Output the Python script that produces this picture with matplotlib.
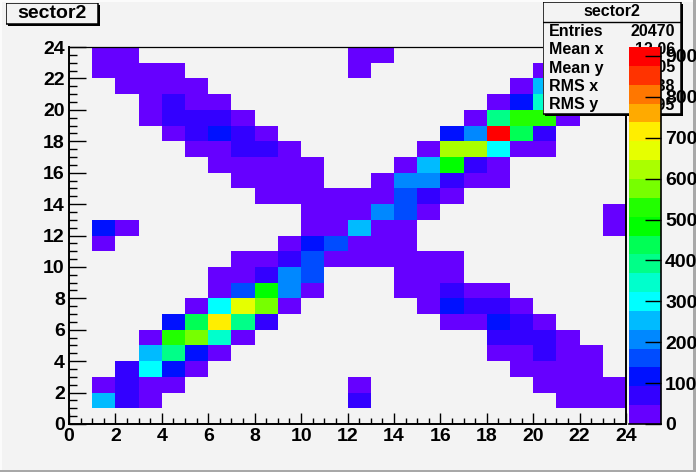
import numpy as np
import matplotlib
matplotlib.use('Agg')
import matplotlib.pyplot as plt
from matplotlib.colors import ListedColormap, BoundaryNorm
from matplotlib.patches import Rectangle

plt.rcParams['font.family'] = ['Liberation Sans', 'DejaVu Sans']
plt.rcParams['font.weight'] = 'bold'

W, H = 696, 472
GRIS = '#f3f3f3'

titulo = 'sector2'
nombres_stats = ['Entries', 'Mean x', 'Mean y', 'RMS x', 'RMS y']
valores_stats = ['20470', '12.06', '12.05', '6.38', '6.95']

ticks_ejes = list(range(0, 25, 2))
ticks_z = [0, 100, 200, 300, 400, 500, 600, 700, 800, 900]

bordes_x = list(range(25))
bordes_y = list(range(25))

# 20 niveles de la paleta, de abajo hacia arriba
z_max = 922
colores = ['#6600ff', '#3300ff', '#0011ff', '#004cff', '#0088ff', '#00bbff', '#00ffff',
           '#00ffcc', '#00ff88', '#00ff55', '#00ff00', '#22ff00', '#77ff00', '#aaff00',
           '#e6ff00', '#ffee00', '#ffaa00', '#ff7700', '#ff3300', '#ff0000']

# conteos, fila 0 = abajo
conteos = [
    [0]*24,
    [0,253,69,23,0,0,0,0,0,0,0,0,69,0,0,0,0,0,0,0,0,23,23,23],
    [0,23,69,23,23,0,0,0,0,0,0,0,23,0,0,0,0,0,0,0,23,23,23,23],
    [0,0,69,300,115,23,0,0,0,0,0,0,0,0,0,0,0,0,0,23,23,23,23,0],
    [0,0,0,253,392,115,23,0,0,0,0,0,0,0,0,0,0,0,23,23,69,23,23,0],
    [0,0,0,23,530,576,346,23,0,0,0,0,0,0,0,0,0,0,69,69,69,23,0,0],
    [0,0,0,0,115,438,714,392,69,0,0,0,0,0,0,0,23,23,115,69,23,0,0,0],
    [0,0,0,0,0,23,300,668,576,23,0,0,0,0,0,23,115,69,69,23,0,0,0,0],
    [0,0,0,0,0,0,23,161,484,207,23,0,0,0,23,23,69,23,23,0,0,0,0,0],
    [0,0,0,0,0,0,23,23,69,207,161,0,0,0,23,23,23,0,0,0,0,0,0,0],
    [0,0,0,0,0,0,0,23,23,69,161,23,23,23,23,23,23,0,0,0,0,0,0,0],
    [0,23,0,0,0,0,0,0,0,23,115,161,23,23,23,0,0,0,0,0,0,0,0,0],
    [0,115,23,0,0,0,0,0,0,0,23,23,253,23,23,0,0,0,0,0,0,0,0,23],
    [0,0,0,0,0,0,0,0,0,0,23,23,23,207,161,23,0,0,0,0,0,0,0,23],
    [0,0,0,0,0,0,0,0,23,23,23,23,23,23,161,69,23,0,0,0,0,0,0,0],
    [0,0,0,0,0,0,0,23,23,23,23,0,0,23,207,207,69,23,23,0,0,0,0,0],
    [0,0,0,0,0,0,23,23,23,23,23,0,0,0,23,253,484,69,23,0,0,0,0,0],
    [0,0,0,0,0,23,23,69,69,23,0,0,0,0,0,23,622,622,300,23,23,0,0,0],
    [0,0,0,0,23,69,115,69,23,0,0,0,0,0,0,0,115,207,900,438,69,0,0,0],
    [0,0,0,23,69,69,69,23,0,0,0,0,0,0,0,0,0,23,392,530,530,23,0,0],
    [0,0,0,23,69,23,23,0,0,0,0,0,0,0,0,0,0,0,23,115,346,0,0,0],
    [0,0,23,23,23,23,0,0,0,0,0,0,0,0,0,0,0,0,0,23,253,0,0,0],
    [0,23,23,23,23,0,0,0,0,0,0,0,23,0,0,0,0,0,0,0,23,0,0,0],
    [0,23,23,0,0,0,0,0,0,0,0,0,23,23,0,0,0,0,0,0,0,0,0,0],
]


def caja_px(fig, x0, y0, x1, y1, zorder):
    # ejes en coordenadas de pixel, y hacia abajo como en la imagen
    return fig.add_axes([x0 / W, 1 - y1 / H, (x1 - x0) / W, (y1 - y0) / H], zorder=zorder)


def recuadro(fig, x0, y0, x1, y1, zorder):
    ax = caja_px(fig, x0, y0, x1 + 2, y1 + 2, zorder)
    ax.set_xlim(x0, x1 + 2)
    ax.set_ylim(y1 + 2, y0)
    ax.axis('off')
    ax.add_patch(Rectangle((x0 + 2, y0 + 2), x1 - x0, y1 - y0, fc='black', ec='none'))
    ax.add_patch(Rectangle((x0, y0), x1 - x0, y1 - y0, fc=GRIS, ec='black', lw=1.1))
    return ax


fig = plt.figure(figsize=(W / 100, H / 100), dpi=100, facecolor=GRIS)

# borde de la ventana
fondo = caja_px(fig, 0, 0, W, H, 0)
fondo.set_xlim(0, W)
fondo.set_ylim(H, 0)
fondo.axis('off')
fondo.add_patch(Rectangle((0, 0), W, 2, fc='#fbfbfb', ec='none'))
fondo.add_patch(Rectangle((0, 0), 2, H, fc='#fbfbfb', ec='none'))
fondo.add_patch(Rectangle((693, 0), 3, H, fc='#a8a8a8', ec='none'))
fondo.add_patch(Rectangle((0, 470), W, 2, fc='#a8a8a8', ec='none'))

niveles = np.linspace(0, z_max, len(colores) + 1)
cmap = ListedColormap(colores)
norm = BoundaryNorm(niveles, cmap.N)
datos = np.ma.masked_equal(np.array(conteos), 0)

ax = caja_px(fig, 69, 47, 626, 424, 1)
ax.set_facecolor(GRIS)
malla = ax.pcolormesh(bordes_x, bordes_y, datos, cmap=cmap, norm=norm)
ax.set_xlim(0, 24)
ax.set_ylim(0, 24)
ax.set_xticks(ticks_ejes)
ax.set_yticks(ticks_ejes)
ax.set_xticks(np.arange(0, 24.5, 0.5), minor=True)
ax.set_yticks(np.arange(0, 24.5, 0.5), minor=True)
ax.tick_params(axis='x', which='major', direction='in', length=8, width=1, labelsize=14, pad=3)
ax.tick_params(axis='x', which='minor', direction='in', length=4, width=1)
ax.tick_params(axis='y', which='major', direction='in', length=12.2, width=1, labelsize=14, pad=3)
ax.tick_params(axis='y', which='minor', direction='in', length=6, width=1)
ax.spines['left'].set_linewidth(1.4)
ax.spines['bottom'].set_linewidth(1.4)
ax.spines['right'].set_linewidth(1.4)
ax.spines['top'].set_linewidth(0.9)

# titulo
caja_t = recuadro(fig, 6, 3, 98, 24, 2)
caja_t.text(52, 14, titulo, ha='center', va='center', fontsize=14, fontweight='bold')

# caja de estadisticas
caja_s = recuadro(fig, 543, 2, 681, 114, 3)
caja_s.plot([543, 681], [22, 22], color='black', lw=1)
caja_s.text(612, 12, titulo, ha='center', va='center', fontsize=11.5, fontweight='bold')
for i, (nombre, valor) in enumerate(zip(nombres_stats, valores_stats)):
    y = 31 + i * 18.5
    caja_s.text(549, y, nombre, ha='left', va='center', fontsize=11.5, fontweight='bold')
    caja_s.text(675, y, valor, ha='right', va='center', fontsize=11.5, fontweight='bold')

# barra de color
cax = caja_px(fig, 629, 47, 661, 424, 4)
cb = fig.colorbar(malla, cax=cax, ticks=ticks_z, spacing='proportional')
cb.outline.set_visible(False)
cb.ax.minorticks_off()
cax.tick_params(axis='y', which='both', direction='in', length=11.5, width=1, labelsize=14, pad=3, right=True, left=False)
cax.spines['right'].set_visible(True)
cax.spines['right'].set_linewidth(1.2)
cax.spines['bottom'].set_visible(True)
cax.spines['bottom'].set_linewidth(1.2)

fig.savefig('out.png', dpi=100, facecolor=GRIS)
